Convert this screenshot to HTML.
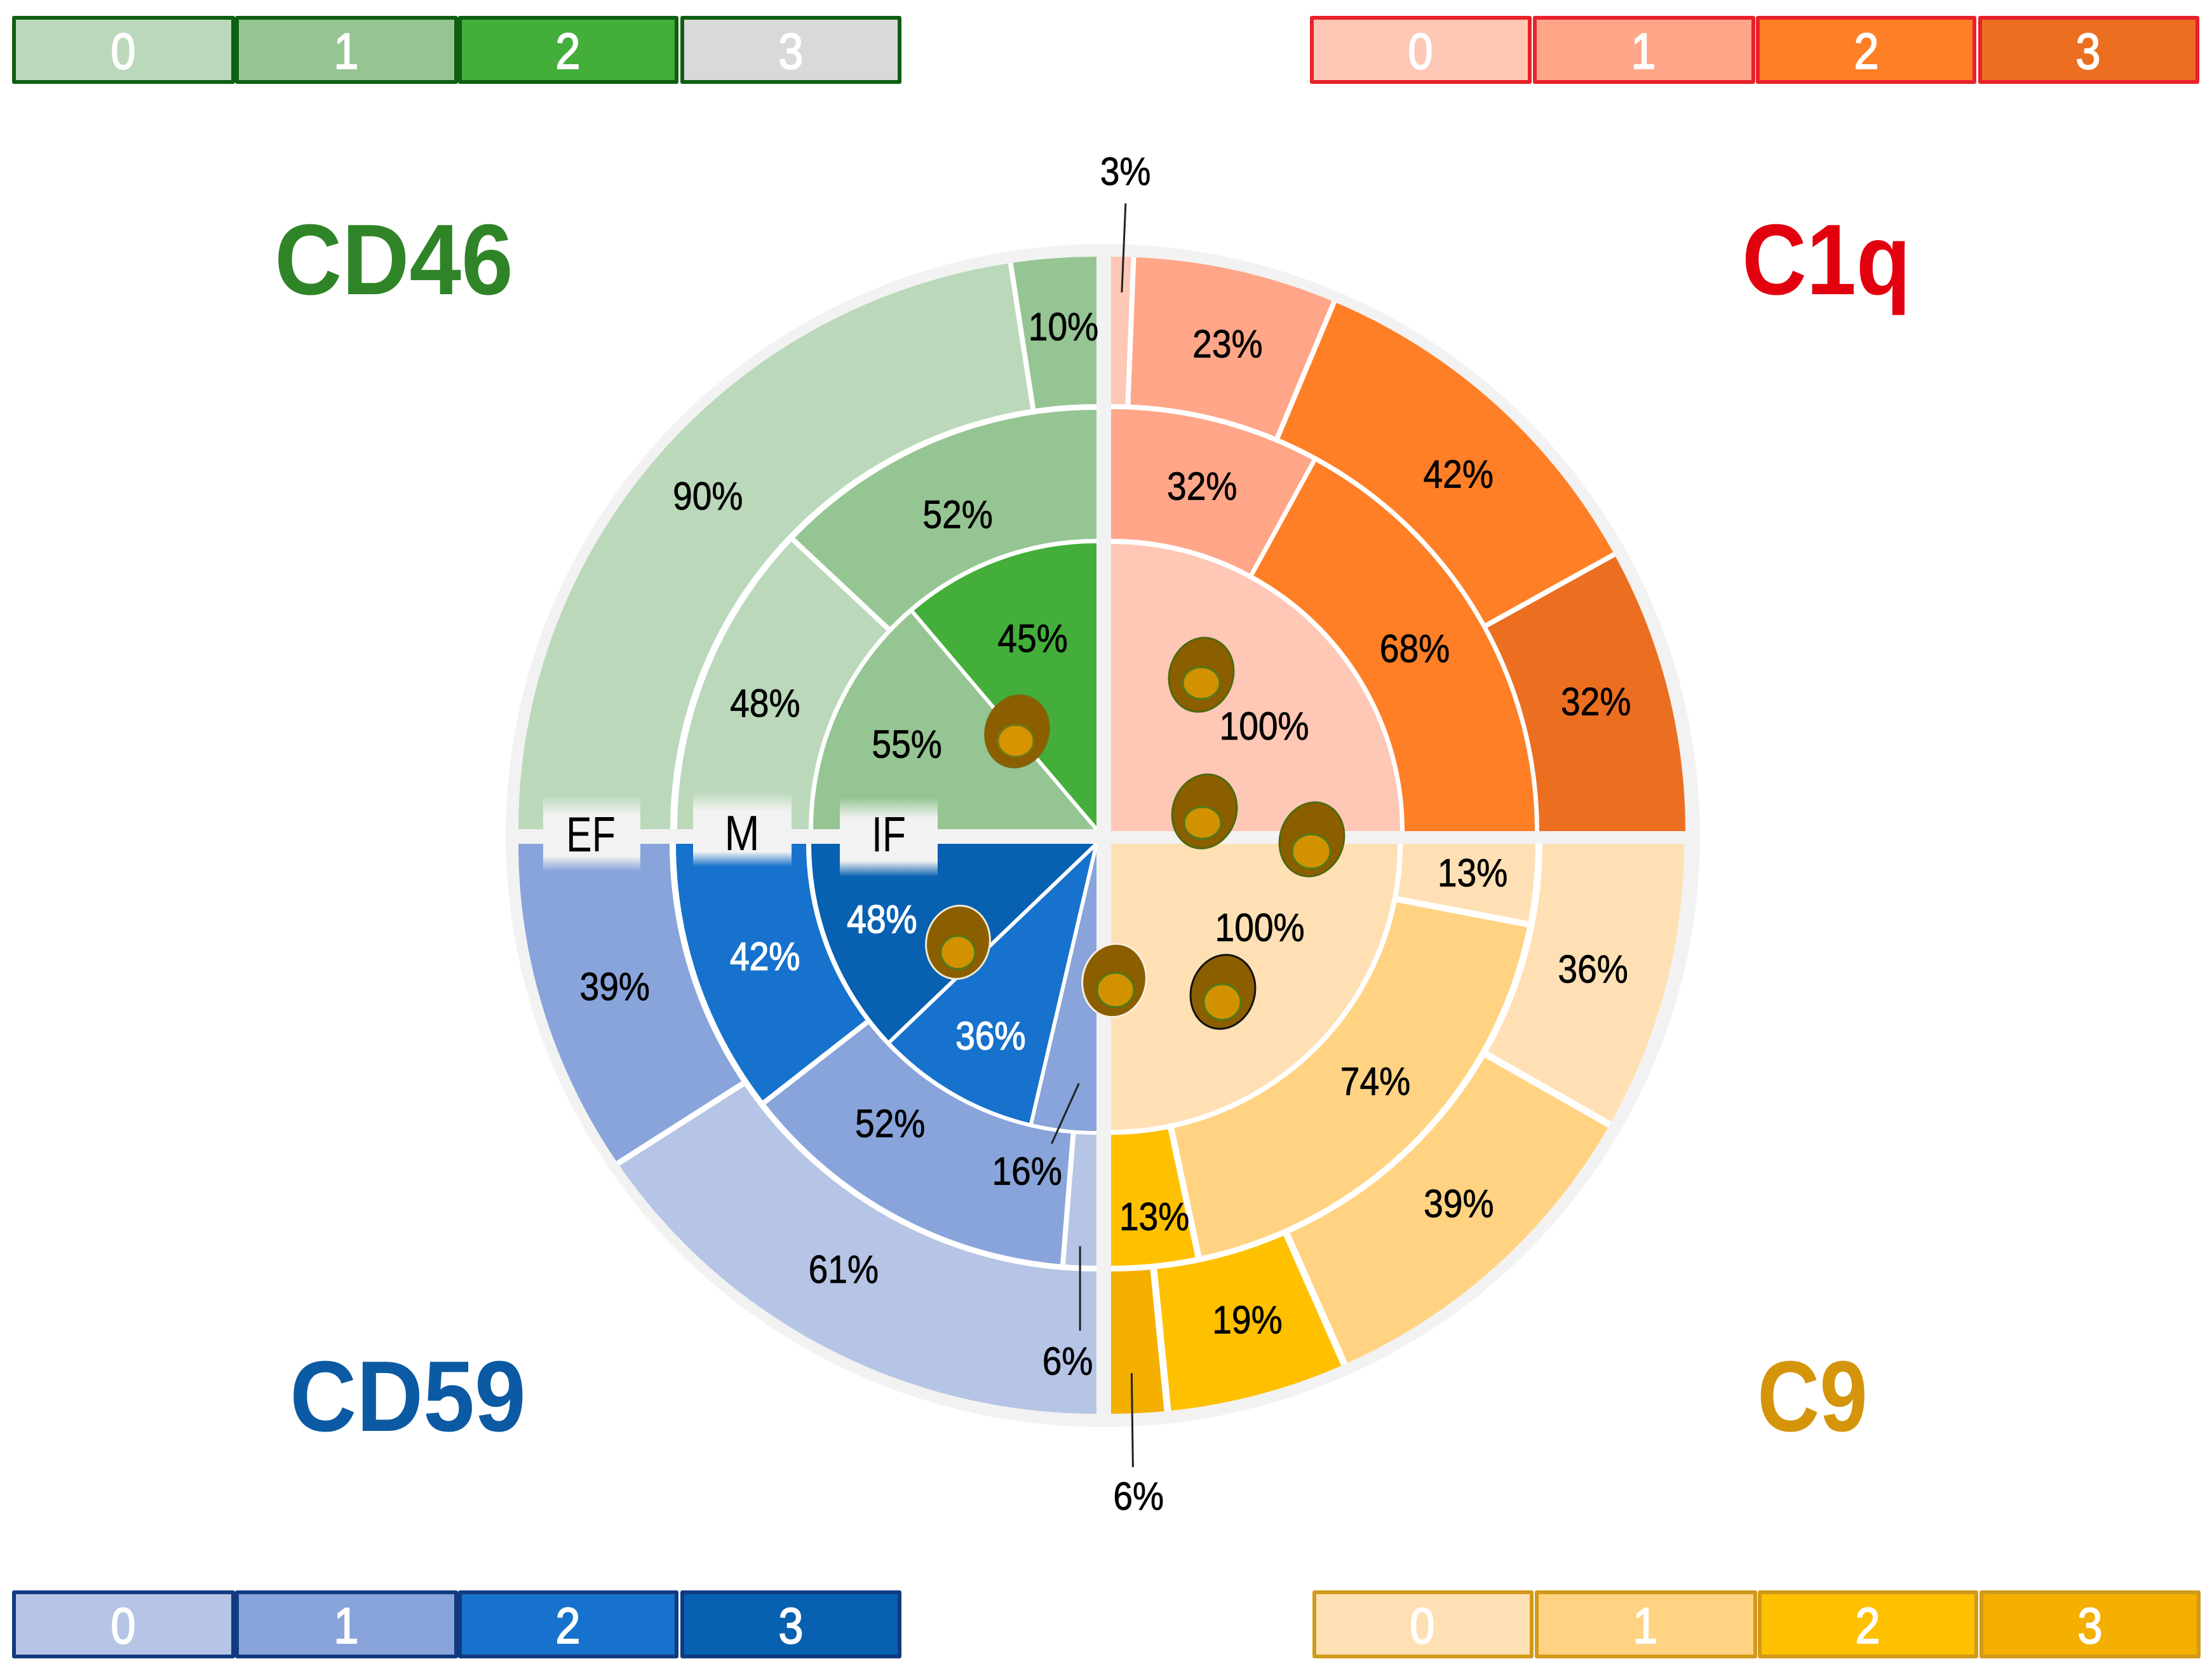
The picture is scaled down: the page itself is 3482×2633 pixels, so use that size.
<!DOCTYPE html>
<html lang="en">
<head>
<meta charset="utf-8">
<title>Complement marker nested pie chart</title>
<style>
html,body{margin:0;padding:0;background:#fff}
svg{display:block}
text{font-family:"Liberation Sans",sans-serif}
</style>
</head>
<body>
<svg id="chart" xmlns="http://www.w3.org/2000/svg" width="3482" height="2633" viewBox="0 0 3482 2633">
<defs>
<linearGradient id="tagFade" x1="0" y1="0" x2="0" y2="1">
<stop offset="0" stop-color="#f2f2f2" stop-opacity="0"/>
<stop offset="0.26" stop-color="#f2f2f2"/>
<stop offset="0.8" stop-color="#f2f2f2"/>
<stop offset="1" stop-color="#f2f2f2" stop-opacity="0"/>
</linearGradient>
</defs>
<rect width="3482" height="2633" fill="#fff"/>

<g font-size="80" text-anchor="middle" fill="#fff" stroke-linejoin="round">
<g><rect x="22" y="28" width="345" height="101" fill="#BBD8BB" stroke="#0F5F12" stroke-width="6"/><text transform="translate(194 108) scale(.88 1)" stroke="#fff" stroke-width="2">0</text></g>
<g><rect x="373" y="28" width="345" height="101" fill="#95C592" stroke="#0F5F12" stroke-width="6"/><text transform="translate(545 108) scale(.88 1)" stroke="#fff" stroke-width="2">1</text></g>
<g><rect x="724" y="28" width="341" height="101" fill="#43AE3A" stroke="#0F5F12" stroke-width="6"/><text transform="translate(894 108) scale(.88 1)" stroke="#fff" stroke-width="2">2</text></g>
<g><rect x="1074" y="28" width="342" height="101" fill="#D9D9D9" stroke="#0F5F12" stroke-width="6"/><text transform="translate(1245 108) scale(.88 1)" stroke="#fff" stroke-width="2">3</text></g>
</g>
<g font-size="80" text-anchor="middle" fill="#fff" stroke-linejoin="round">
<g><rect x="2065" y="28" width="343" height="101" fill="#FFC7B5" stroke="#E8212A" stroke-width="6"/><text transform="translate(2236 108) scale(.88 1)" stroke="#fff" stroke-width="2">0</text></g>
<g><rect x="2416" y="28" width="344" height="101" fill="#FFA689" stroke="#E8212A" stroke-width="6"/><text transform="translate(2587 108) scale(.88 1)" stroke="#fff" stroke-width="2">1</text></g>
<g><rect x="2767" y="28" width="341" height="101" fill="#FF7F26" stroke="#E8212A" stroke-width="6"/><text transform="translate(2938 108) scale(.88 1)" stroke="#fff" stroke-width="2">2</text></g>
<g><rect x="3117" y="28" width="342" height="101" fill="#EC6F21" stroke="#E8212A" stroke-width="6"/><text transform="translate(3287 108) scale(.88 1)" stroke="#fff" stroke-width="2">3</text></g>
</g>
<g font-size="80" text-anchor="middle" fill="#fff" stroke-linejoin="round">
<g><rect x="22" y="2506" width="345" height="101" fill="#B6C5E5" stroke="#123A80" stroke-width="6"/><text transform="translate(194 2586) scale(.88 1)" stroke="#fff" stroke-width="2">0</text></g>
<g><rect x="373" y="2506" width="345" height="101" fill="#88A4DA" stroke="#123A80" stroke-width="6"/><text transform="translate(545 2586) scale(.88 1)" stroke="#fff" stroke-width="2">1</text></g>
<g><rect x="724" y="2506" width="341" height="101" fill="#1672CC" stroke="#123A80" stroke-width="6"/><text transform="translate(894 2586) scale(.88 1)" stroke="#fff" stroke-width="2">2</text></g>
<g><rect x="1074" y="2506" width="342" height="101" fill="#0760B0" stroke="#123A80" stroke-width="6"/><text transform="translate(1245 2586) scale(.88 1)" stroke="#fff" stroke-width="2">3</text></g>
</g>
<g font-size="80" text-anchor="middle" fill="#fff" stroke-linejoin="round">
<g><rect x="2069" y="2506" width="342" height="101" fill="#FFE0B4" stroke="#D29A1A" stroke-width="6"/><text transform="translate(2239 2586) scale(.88 1)" stroke="#fff" stroke-width="2">0</text></g>
<g><rect x="2419" y="2506" width="344" height="101" fill="#FFD382" stroke="#D29A1A" stroke-width="6"/><text transform="translate(2590 2586) scale(.88 1)" stroke="#fff" stroke-width="2">1</text></g>
<g><rect x="2770" y="2506" width="341" height="101" fill="#FFC000" stroke="#D29A1A" stroke-width="6"/><text transform="translate(2940 2586) scale(.88 1)" stroke="#fff" stroke-width="2">2</text></g>
<g><rect x="3119" y="2506" width="342" height="101" fill="#F4AF00" stroke="#D29A1A" stroke-width="6"/><text transform="translate(3290 2586) scale(.88 1)" stroke="#fff" stroke-width="2">3</text></g>
</g>

<g font-size="158" font-weight="700" text-anchor="middle">
<text transform="translate(620 463) scale(.93 1)" fill="#2F8428">CD46</text>
<text transform="translate(2875 463) scale(.89 1)" fill="#E2000F">C1q</text>
<text transform="translate(642 2252) scale(.92 1)" fill="#0B5AA3">CD59</text>
<text transform="translate(2853 2252) scale(.86 1)" fill="#D4950B">C9</text>
</g>

<ellipse cx="1736" cy="1315" rx="940" ry="931" fill="#f2f2f2"/>
<g id="sectors"></g>

<g>
<rect x="855" y="1252" width="153" height="119" fill="url(#tagFade)"/>
<rect x="1091" y="1246" width="155" height="118" fill="url(#tagFade)"/>
<rect x="1322" y="1255" width="154" height="125" fill="url(#tagFade)"/>
<g font-size="78" text-anchor="middle" fill="#000">
<text transform="translate(930 1340) scale(.78 1)">EF</text>
<text transform="translate(1168 1338) scale(.85 1)">M</text>
<text transform="translate(1399 1340) scale(.78 1)">IF</text>
</g>
</g>

<g>
<g><ellipse cx="1891" cy="1062" rx="50" ry="59" transform="rotate(18 1891 1062)" fill="#8B5E00" stroke="#4d6a10" stroke-width="3"/><ellipse cx="1891" cy="1075" rx="29" ry="25" fill="#D29200" stroke="#4f7a1a" stroke-width="3"/></g>
<g><ellipse cx="1896" cy="1277" rx="50" ry="59" transform="rotate(18 1896 1277)" fill="#8B5E00" stroke="#4d6a10" stroke-width="3"/><ellipse cx="1893" cy="1295" rx="29" ry="25" fill="#D29200" stroke="#4f7a1a" stroke-width="3"/></g>
<g><ellipse cx="2065" cy="1321" rx="50" ry="59" transform="rotate(18 2065 1321)" fill="#8B5E00" stroke="#4d6a10" stroke-width="3"/><ellipse cx="2064" cy="1340" rx="30" ry="27" fill="#D29200" stroke="#4f7a1a" stroke-width="3"/></g>
<g><ellipse cx="1601" cy="1151" rx="50" ry="58" transform="rotate(18 1601 1151)" fill="#8B5E00" stroke="#7a6a10" stroke-width="2"/><ellipse cx="1599" cy="1166" rx="28" ry="25" fill="#D89400" stroke="#6f7a1a" stroke-width="3"/></g>
<g><ellipse cx="1508" cy="1483" rx="50" ry="58" transform="rotate(12 1508 1483)" fill="#8B5E00" stroke="#f0e8d0" stroke-width="3"/><ellipse cx="1508" cy="1499" rx="27" ry="26" fill="#D29200" stroke="#4f7a1a" stroke-width="3"/></g>
<g><ellipse cx="1754" cy="1543" rx="50" ry="58" transform="rotate(12 1754 1543)" fill="#8B5E00" stroke="#f7f0e0" stroke-width="3"/><ellipse cx="1756" cy="1558" rx="29" ry="27" fill="#D29200" stroke="#4f7a1a" stroke-width="3"/></g>
<g><ellipse cx="1925" cy="1561" rx="50" ry="59" transform="rotate(18 1925 1561)" fill="#8B5E00" stroke="#111" stroke-width="3"/><ellipse cx="1924" cy="1577" rx="29" ry="28" fill="#D29200" stroke="#4f7a1a" stroke-width="3"/></g>
</g>

<g id="leaders"></g>
<g id="labels" font-size="62" text-anchor="middle"></g>
</svg>

<script>
// Chart values: percent of each quadrant per ring, and the score level of each segment.
const c1qInner = [100];
const c1qMiddle = [32, 68];
const c1qOuter = [3, 23, 42, 32];
const c1qInnerLevels = [0];
const c1qMiddleLevels = [1, 2];
const c1qOuterLevels = [0, 1, 2, 3];

const c9Inner = [100];
const c9Middle = [13, 74, 13];
const c9Outer = [36, 39, 19, 6];
const c9InnerLevels = [0];
const c9MiddleLevels = [0, 1, 2];
const c9OuterLevels = [0, 1, 2, 3];

const cd59Inner = [16, 36, 48];
const cd59Middle = [6, 52, 42];
const cd59Outer = [61, 39];
const cd59InnerLevels = [1, 2, 3];
const cd59MiddleLevels = [0, 1, 2];
const cd59OuterLevels = [0, 1];

const cd46Inner = [55, 45];
const cd46Middle = [48, 52];
const cd46Outer = [90, 10];
const cd46InnerLevels = [1, 2];
const cd46MiddleLevels = [0, 1];
const cd46OuterLevels = [0, 1];

// Layout (not data): per-quadrant geometry. bands = ring [innerRx, innerRy, outerRx, outerRy].
// drift = how far the printed figure's segment boundaries sit from the labelled percentage.
const labelRadii = [290, 560, 790];
const quadrants = [
  {key:'c1q', cx:1749, cy:1308, lx:1749, ly:1304, start:-90, colors:['#FFC7B5','#FFA689','#FF7F26','#EC6F21'],
   bands:[[0,0,455,452],[462,460,667,664],[674,672,904,904]], sep:[6,7,8],
   drift:[[],[-0.2],[-0.5,-0.6,0]],
   rings:[[c1qInner,c1qInnerLevels],[c1qMiddle,c1qMiddleLevels],[c1qOuter,c1qOuterLevels]],
   nudge:[[[36,45]],[[4,5],[-4,3]],[[4,-243],[5,8],[15,28],[-2,-2]]], whiteFrom:9},
  {key:'c9', cx:1749, cy:1328, lx:1749, ly:1326, start:0, colors:['#FFE0B4','#FFD382','#FFC000','#F4AF00'],
   bands:[[0,0,451,450],[459,458,668,664],[679,673,902,897]], sep:[6,10,11],
   drift:[[],[-0.8,-0.2],[-3.2,-1.7,-0.3]],
   rings:[[c9Inner,c9InnerLevels],[c9Middle,c9MiddleLevels],[c9Outer,c9OuterLevels]],
   nudge:[[[29,-70]],[[12,-8],[20,-19],[11,33]],[[0,-20],[39,-35],[24,-14],[6,241]]], whiteFrom:9},
  {key:'cd59', cx:1726, cy:1328, lx:1724, ly:1328, start:90, colors:['#B6C5E5','#88A4DA','#1672CC','#0760B0'],
   bands:[[0,0,449,452],[457,458,662,664],[672,673,910,897]], sep:[6,8,9],
   drift:[[-1.3,-0.4],[-0.9,0],[1.1]],
   rings:[[cd59Inner,cd59InnerLevels],[cd59Middle,cd59MiddleLevels],[cd59Outer,cd59OuterLevels]],
   nudge:[[[-71,229],[-17,54],[-66,13]],[[-17,256],[-53,-49],[10,-3]],[[-32,-30],[-3,-12]]], whiteFrom:2},
  {key:'cd46', cx:1726, cy:1305, lx:1727, ly:1304, start:180, colors:['#BBD8BB','#95C592','#43AE3A','#D9D9D9'],
   bands:[[0,0,446,450],[453,457,660,660],[671,669,910,901]], sep:[6,8,8],
   drift:[[0],[0.5],[0.5]],
   rings:[[cd46Inner,cd46InnerLevels],[cd46Middle,cd46MiddleLevels],[cd46Outer,cd46OuterLevels]],
   nudge:[[[-36,-10],[-1,-26]],[[-2,10],[3,21]],[[-12,-9],[9,-1]]], whiteFrom:9}
];
// leader: quadrant index, ring, segment, radius on segment, x tweak, line vector
const leaderSpecs = [
  {q:0, ring:2, seg:0, r:844, dx:-3, vx:6, vy:-140},
  {q:2, ring:0, seg:0, r:380, dx:22, vx:-43, vy:95},
  {q:2, ring:1, seg:0, r:634, dx:6, vx:0, vy:133},
  {q:1, ring:2, seg:3, r:836, dx:-7, vx:2, vy:148}
];

const NS = 'http://www.w3.org/2000/svg';
const sectorsG = document.getElementById('sectors');
const labelsG = document.getElementById('labels');
const leadersG = document.getElementById('leaders');

function pctToAngle(q, pct){ return (q.start + pct * 0.9) * Math.PI / 180; }
function radial(q, pct, rx, ry){
  const a = pctToAngle(q, pct);
  return [q.cx + rx * Math.cos(a), q.cy + ry * Math.sin(a)];
}
function labelAnchor(q, pct, r){
  const a = pctToAngle(q, pct);
  return [q.lx + r * Math.cos(a), q.ly + r * Math.sin(a)];
}
function f(n){ return n.toFixed(2); }
function sectorPath(q, p0, p1, b){
  const a = radial(q, p0, b[2], b[3]), e = radial(q, p1, b[2], b[3]);
  let d = 'M' + f(a[0]) + ' ' + f(a[1]) + 'A' + b[2] + ' ' + b[3] + ' 0 0 1 ' + f(e[0]) + ' ' + f(e[1]);
  if (b[0] > 0) {
    const c = radial(q, p1, b[0], b[1]), g = radial(q, p0, b[0], b[1]);
    d += 'L' + f(c[0]) + ' ' + f(c[1]) + 'A' + b[0] + ' ' + b[1] + ' 0 0 0 ' + f(g[0]) + ' ' + f(g[1]);
  } else {
    d += 'L' + q.cx + ' ' + q.cy;
  }
  return d + 'Z';
}
function cumulativeBefore(values, idx){
  let s = 0;
  for (let i = 0; i < idx; i++) s += values[i];
  return s;
}
function boundary(q, ri, idx){
  const values = q.rings[ri][0];
  const base = cumulativeBefore(values, idx);
  if (idx === 0 || idx >= values.length) return base;
  return base + (q.drift[ri][idx - 1] || 0);
}

quadrants.forEach(function(q){
  const group = document.createElementNS(NS, 'g');
  
  
  sectorsG.appendChild(group);

  const outerBand = q.bands[2];
  const base = document.createElementNS(NS, 'path');
  base.setAttribute('d', sectorPath(q, 0, 100, [0, 0, outerBand[2], outerBand[3]]));
  base.setAttribute('fill', '#fff');
  
  
  group.appendChild(base);

  q.rings.forEach(function(ring, ri){
    const values = ring[0], levels = ring[1], band = q.bands[ri];
    values.forEach(function(v, si){
      const sector = document.createElementNS(NS, 'path');
      sector.setAttribute('d', sectorPath(q, boundary(q, ri, si), boundary(q, ri, si + 1), band));
      sector.setAttribute('fill', q.colors[levels[si]]);
      
      
      group.appendChild(sector);
    });
    values.forEach(function(v, si){
      if (si === 0) return;
      const p = boundary(q, ri, si);
      const s = radial(q, p, band[0], band[1]), t = radial(q, p, band[2], band[3]);
      const sep = document.createElementNS(NS, 'line');
      sep.setAttribute('x1', f(s[0]));
      sep.setAttribute('y1', f(s[1]));
      sep.setAttribute('x2', f(t[0]));
      sep.setAttribute('y2', f(t[1]));
      sep.setAttribute('stroke', '#fff');
      sep.setAttribute('stroke-width', q.sep[ri]);
      
      
      group.appendChild(sep);
    });
    values.forEach(function(v, si){
      const p0 = cumulativeBefore(values, si);
      const pt = labelAnchor(q, p0 + v / 2, labelRadii[ri]);
      const n = q.nudge[ri][si];
      const text = document.createElementNS(NS, 'text');
      const white = levels[si] >= q.whiteFrom;
      text.setAttribute('transform', 'translate(' + f(pt[0] + n[0]) + ' ' + f(pt[1] + n[1] + 20) + ') scale(.89 1)');
      text.setAttribute('fill', white ? '#fff' : '#000');
      text.setAttribute('stroke', white ? '#fff' : '#000');
      text.setAttribute('stroke-width', white ? '1.5' : '0.8');
      text.textContent = v + '%';
      
      
      labelsG.appendChild(text);
    });
  });
});

leaderSpecs.forEach(function(spec, i){
  const q = quadrants[spec.q];
  const values = q.rings[spec.ring][0];
  const mid = cumulativeBefore(values, spec.seg) + values[spec.seg] / 2;
  const a = labelAnchor(q, mid, spec.r);
  const line = document.createElementNS(NS, 'line');
  line.setAttribute('x1', f(a[0] + spec.dx));
  line.setAttribute('y1', f(a[1]));
  line.setAttribute('x2', f(a[0] + spec.dx + spec.vx));
  line.setAttribute('y2', f(a[1] + spec.vy));
  line.setAttribute('stroke', '#222');
  line.setAttribute('stroke-width', '3');
  
  
  leadersG.appendChild(line);
});
</script>
</body>
</html>
